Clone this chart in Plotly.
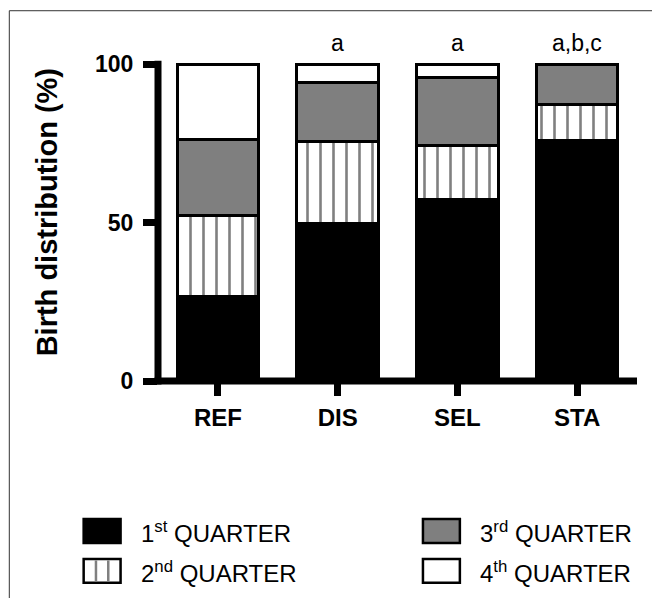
import plotly.graph_objects as go

# ---------------- data ----------------
categories = ["REF", "DIS", "SEL", "STA"]
q1 = [26.6, 49.8, 57.3, 76.0]
q2 = [25.5, 25.9, 17.1, 11.4]
q3 = [24.2, 18.4, 21.3, 12.6]
q4 = [23.7, 5.9, 4.3, 0.0]
series_names = ["1<sup>st</sup> QUARTER", "2<sup>nd</sup> QUARTER",
                "3<sup>rd</sup> QUARTER", "4<sup>th</sup> QUARTER"]
sig_labels = ["", "a", "a", "a,b,c"]
y_ticks = [0, 50, 100]
y_title = "Birth distribution (%)"

# ---------------- layout geometry (screen pixels) ----------------
W, H = 660, 598
OFF = 8  # default page body margin
L, R = 157.5, 637.5
T_, B_ = 60.8, 381.0
FONT = "Arial, Liberation Sans, Helvetica, sans-serif"


def fx(px):
    return (px - L) / (R - L)


def fy(py):
    return (B_ - py) / (B_ - T_)


fills = ["black", "white", "#7f7f7f", "white"]
values = [q1, q2, q3, q4]

fig = go.Figure()
for i, (name, vals) in enumerate(zip(series_names, values)):
    marker = dict(color=fills[i], line=dict(color="black", width=3))
    if i == 1:
        marker["pattern"] = dict(shape="|", fgcolor="#808080", bgcolor="white",
                                 size=13, solidity=0.2, fillmode="replace")
    fig.add_trace(go.Bar(x=categories, y=vals, name=name, marker=marker,
                         width=0.68, showlegend=False, hoverinfo="skip"))

fig.update_layout(
    barmode="stack",
    width=W, height=H,
    margin=dict(l=L - OFF, r=W - (R - OFF), t=T_ - OFF, b=H - (B_ - OFF), pad=0),
    paper_bgcolor="white", plot_bgcolor="white",
    font=dict(family=FONT, color="black"),
)
fig.update_xaxes(range=[-0.5, 3.5], showline=False, showgrid=False, zeroline=False,
                 ticks="outside", ticklen=14, tickwidth=7, tickcolor="black",
                 tickfont=dict(size=24, family=FONT, weight="bold", color="black"),
                 ticklabelstandoff=1)
fig.update_yaxes(range=[0, 101], tickvals=y_ticks, showline=False, showgrid=False,
                 zeroline=False, ticks="outside", ticklen=14, tickwidth=7,
                 tickcolor="black",
                 tickfont=dict(size=23, family=FONT, weight="bold", color="black"),
                 ticklabelstandoff=5)

shapes = []
# frame lines
shapes.append(dict(type="line", xref="paper", yref="paper", x0=fx(8.5), x1=fx(670),
                   y0=fy(10.5), y1=fy(10.5), line=dict(color="#333333", width=1)))
shapes.append(dict(type="line", xref="paper", yref="paper", x0=fx(8.5), x1=fx(8.5),
                   y0=fy(10.5), y1=fy(610), line=dict(color="#333333", width=1)))
# axis lines
shapes.append(dict(type="line", xref="paper", yref="paper", x0=0, x1=0,
                   y0=fy(B_ + 3.5), y1=fy(B_ - 100 * (B_ - T_) / 101 - 3.5),
                   line=dict(color="black", width=7)))
shapes.append(dict(type="line", xref="paper", yref="paper", x0=fx(154), x1=1,
                   y0=0, y1=0, line=dict(color="black", width=7)))

# legend
legend_pos = [(83, 531), (83, 571), (423, 531), (423, 571)]
box_w, box_h = 37, 24
annotations = []
for i, (name, (bx, by)) in enumerate(zip(series_names, legend_pos)):
    shapes.append(dict(type="rect", xref="paper", yref="paper",
                       x0=fx(bx), x1=fx(bx + box_w), y0=fy(by - box_h / 2), y1=fy(by + box_h / 2),
                       fillcolor=fills[i], line=dict(color="black", width=2.5)))
    if i == 1:
        for k in (1, 2):
            lx = bx + box_w * k / 3
            shapes.append(dict(type="line", xref="paper", yref="paper",
                               x0=fx(lx), x1=fx(lx), y0=fy(by - box_h / 2 + 1.5),
                               y1=fy(by + box_h / 2 - 1.5),
                               line=dict(color="#808080", width=2.5)))
    annotations.append(dict(x=fx(bx + 55), y=fy(by + 1), xref="paper", yref="paper",
                            text=name, showarrow=False, xanchor="left", yanchor="middle",
                            font=dict(size=24, family=FONT, color="black")))

# significance letters
for cat, lab in zip(categories, sig_labels):
    if lab:
        annotations.append(dict(x=cat, y=fy(43), xref="x", yref="paper", text=lab,
                                showarrow=False, xanchor="center", yanchor="middle",
                                font=dict(size=23, family=FONT, color="black")))

# y-axis title
annotations.append(dict(x=fx(46), y=fy(212.5), xref="paper", yref="paper", text=y_title,
                        textangle=-90, showarrow=False, xanchor="center", yanchor="middle",
                        font=dict(size=29, family=FONT, weight="bold", color="black")))

fig.update_layout(shapes=shapes, annotations=annotations)
fig.write_html("out.html")
